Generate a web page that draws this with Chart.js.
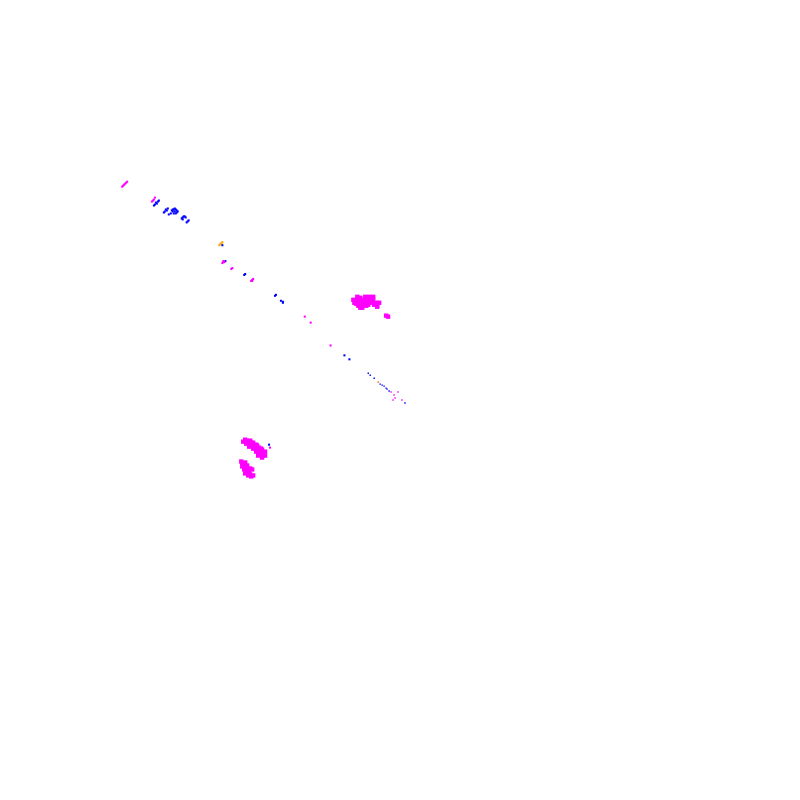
<!DOCTYPE html>
<html>
<head>
<meta charset="utf-8">
<script src="https://cdn.jsdelivr.net/npm/chart.js@4"></script>
<style>
  html, body { margin: 0; padding: 0; background: #fff; }
  #wrap { width: 800px; height: 800px; }
</style>
</head>
<body>
<div id="wrap"><canvas id="scatter"></canvas></div>
<script>
// values (x, y on a 0-800 grid, y counted downwards)
const magentaClusters = [
  [357,296],[365,296],[369,296],[373,296],[360,297],
  [353,299],[357,299],[361,299],[365,299],[369,299],[373,299],
  [354,302],[358,302],[362,302],[366,302],[370,302],[372,301],[376,302],[379,302],
  [356,303],[364,303],[368,304],[374,304],
  [358,305],[362,305],[366,305],[377,305],[362,307],[360,307],[377,306],
  [386,315],[388,316],
  [242,442],[244,440],[246,441],[249,441],[250,443],[252,443],[248,444],[245,444],[247,443],
  [251,446],[253,446],[255,445],[256,446],[248,447],[252,449],[254,449],[258,448],[259,451],
  [260,449],[257,452],[255,452],[261,450],[260,454],[263,453],[264,452],[258,455],
  [262,456],[264,456],[257,456],[261,458],
  [240,462],[244,463],[241,464],[241,467],[243,467],[244,466],[246,466],
  [243,470],[246,469],[249,469],[247,471],[245,473],[248,472],[244,474],
  [249,475],[251,470],[247,476],[250,477],[252,476]
];
const magentaMarks = [
  [120,185],[121,184],[122,183],[123,182],[124,181],[125,180],
  [150,200],[151,199],[152,198],[153,196],
  [221,262],[222,261],[223,261],[222,260],
  [230,268],[231,267],
  [250,280],[251,279],[252,278],[251,280],
  [304,316],[310,322],[330,345],[269,448]
];
const magentaDots = [[391,392],[398,392],[394,395],[395,398],[393,400],[402,400]];
const blueMarks = [
  [153,203],[152,204],[154,201],[155,202],[156,200],[157,199],
  [163,210],[162,211],[164,208],[165,209],[166,207],
  [171,210],[170,209],[171,208],[172,208],[173,207],[174,208],[175,209],[175,211],
  [176,210],[173,210],[172,212],[174,212],[169,212],[167,213],
  [180,217],[181,216],[181,218],[182,215],[183,215],[184,216],
  [185,221],[186,220],[187,219],
  [221,244],[224,260],[243,274],[244,273],
  [274,295],[275,294],[280,300],[282,301],[282,302],
  [344,355],[349,359],[268,445]
];
const blueDots = [
  [368,373],[370,375],[374,378],[380,384],[382,385],[384,386],
  [386,388],[387,389],[389,391],[405,403]
];
const orangeMarks = [[218,244],[219,243],[220,242],[221,241]];
const redDots = [[378,382]];

const toPts = arr => arr.map(p => ({ x: p[0], y: p[1] }));

function dataset(arr, color, radius) {
  return {
    data: toPts(arr),
    backgroundColor: color,
    borderWidth: 0,
    pointStyle: 'rect',
    pointRadius: radius,
    pointHoverRadius: radius
  };
}

new Chart(document.getElementById('scatter'), {
  type: 'scatter',
  data: {
    datasets: [
      dataset(magentaClusters, '#ff00ff', 3.1),
      dataset(magentaMarks, '#ff00ff', 1.45),
      dataset(magentaDots, '#ff00ff', 1.0),
      dataset(blueMarks, '#0000ff', 1.45),
      dataset(blueDots, '#0000ff', 1.0),
      dataset(orangeMarks, '#ffa500', 1.45),
      dataset(redDots, '#ff4500', 1.0)
    ]
  },
  options: {
    responsive: true,
    maintainAspectRatio: false,
    animation: false,
    layout: { padding: 0 },
    plugins: { legend: { display: false }, tooltip: { enabled: false } },
    scales: {
      x: { type: 'linear', min: 0, max: 800, display: false },
      y: { type: 'linear', min: 0, max: 800, reverse: true, display: false }
    }
  }
});
</script>
</body>
</html>
